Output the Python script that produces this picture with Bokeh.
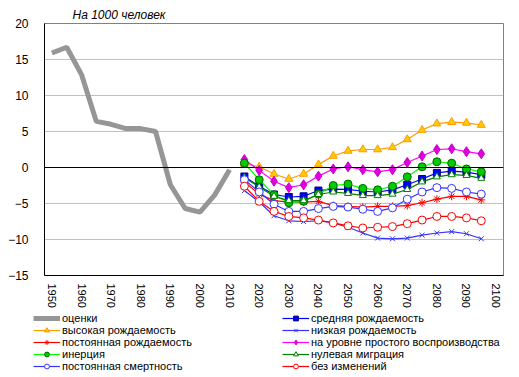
from bokeh.plotting import figure
from bokeh.layouts import column
from bokeh.models import Legend, LegendItem, Span, FixedTicker, Range1d
from bokeh.embed import file_html
from bokeh.resources import INLINE

# ---- data ----
est_years = [1950, 1955, 1960, 1965, 1970, 1975, 1980, 1985, 1990, 1995, 2000, 2005, 2010]
est_values = [15.9, 16.7, 12.9, 6.4, 6.0, 5.4, 5.4, 5.0, -2.4, -5.7, -6.2, -3.8, -0.3]

proj_years = [2015, 2020, 2025, 2030, 2035, 2040, 2045, 2050, 2055,
              2060, 2065, 2070, 2075, 2080, 2085, 2090, 2095]

medium = [-1.25, -2.6, -3.75, -4.1, -4.0, -3.2, -3.0, -3.05, -3.3, -3.4, -3.1, -2.4, -1.6, -0.75, -0.5, -0.65, -1.0]
high = [0.5, 0.1, -0.9, -1.6, -0.9, 0.4, 1.6, 2.3, 2.5, 2.5, 2.8, 3.9, 5.2, 6.1, 6.3, 6.2, 5.9]
low = [-3.2, -4.8, -6.7, -7.4, -7.5, -7.4, -7.7, -8.3, -9.1, -9.8, -9.9, -9.8, -9.4, -9.1, -8.9, -9.2, -9.9]
const_fert = [-2.0, -3.7, -4.6, -4.8, -4.8, -4.7, -5.3, -5.4, -5.5, -5.4, -5.4, -5.3, -4.9, -4.4, -4.0, -4.0, -4.5]
replacement = [1.1, -0.4, -1.9, -2.8, -2.4, -1.2, -0.2, 0.1, -0.3, -0.6, -0.3, 0.7, 1.6, 2.5, 2.6, 2.2, 1.9]
inertia = [0.6, -1.7, -3.8, -4.9, -4.7, -3.7, -2.5, -2.3, -2.9, -3.1, -2.6, -1.3, 0.1, 0.8, 0.6, -0.2, -0.6]
zero_mig = [-1.4, -2.7, -4.0, -4.6, -4.6, -3.75, -3.4, -3.6, -3.9, -3.9, -3.7, -3.05, -2.0, -1.3, -1.0, -1.1, -1.5]
const_mort = [-1.7, -3.4, -5.1, -6.1, -6.1, -5.7, -5.4, -5.5, -5.8, -6.1, -5.6, -4.4, -3.4, -2.8, -2.9, -3.4, -3.7]
no_change = [-2.6, -4.7, -6.1, -6.8, -7.0, -7.3, -7.7, -8.1, -8.4, -8.3, -8.2, -7.8, -7.3, -6.8, -6.8, -7.0, -7.4]

x_ticks = [1950, 1960, 1970, 1980, 1990, 2000, 2010, 2020, 2030, 2040, 2050, 2060, 2070, 2080, 2090, 2100]
y_ticks = [-15, -10, -5, 0, 5, 10, 15, 20]

FONT = "Liberation Sans"

p = figure(width=519, height=311, output_backend="svg", toolbar_location=None,
           x_range=Range1d(1947.5, 2102.5), y_range=Range1d(-15, 20),
           min_border_left=44, min_border_right=16, min_border_top=23,
           min_border_bottom=36, title="На 1000 человек")
p.frame_align = False

p.title.text_font = FONT
p.title.text_font_size = "12px"
p.title.text_font_style = "italic"
p.title.align = "left"
p.title.offset = 28
p.title.standoff = 4
p.title.text_color = "black"

p.outline_line_color = "#808080"
p.outline_line_width = 1
p.background_fill_color = "white"
p.border_fill_color = "white"

p.xgrid.grid_line_color = None
p.ygrid.grid_line_color = "#c0c0c0"
p.ygrid.ticker = FixedTicker(ticks=y_ticks)

p.xaxis.ticker = FixedTicker(ticks=x_ticks)
p.xaxis.major_label_orientation = "vertical"
p.xaxis.major_label_text_font = FONT
p.xaxis.major_label_text_font_size = "11px"
p.xaxis.major_label_text_color = "black"
p.xaxis.major_tick_line_color = None
p.xaxis.minor_tick_line_color = None
p.xaxis.axis_line_color = "black"
p.xaxis.major_label_standoff = 2

p.yaxis.ticker = FixedTicker(ticks=y_ticks)
p.yaxis.major_label_text_font = FONT
p.yaxis.major_label_text_font_size = "12px"
p.yaxis.major_label_text_color = "black"
p.yaxis.major_tick_line_color = None
p.yaxis.minor_tick_line_color = None
p.yaxis.axis_line_color = "black"
p.yaxis.major_label_standoff = 10

p.add_layout(Span(location=0, dimension="width", line_color="black", line_width=1))

# legend figure (below the chart)
lf = figure(width=519, height=66, output_backend="svg", toolbar_location=None,
            x_range=Range1d(0, 1), y_range=Range1d(0, 1),
            x_axis_type=None, y_axis_type=None,
            min_border_left=0, min_border_right=0, min_border_top=0, min_border_bottom=0)
lf.frame_align = False
lf.outline_line_color = None
lf.grid.grid_line_color = None
lf.background_fill_color = "white"
lf.border_fill_color = "white"

# off-screen stand-ins so the legend can show each series' style
OFF = [5, 6]

items = []

p.line(est_years, est_values, line_color="#969696", line_width=5)
d = lf.line(OFF, OFF, line_color="#969696", line_width=5)
items.append(LegendItem(label="оценки", renderers=[d]))

series = [
    ("средняя рождаемость", medium, "#0000ff", "square", "#0000ff", "#000080", 7, 5),
    ("высокая рождаемость", high, "#ff9900", "triangle", "#ffcc00", "#ff9900", 8, 6),
    ("низкая рождаемость", low, "#3333ff", "x", "#3333ff", "#3333ff", 7, 6),
    ("постоянная рождаемость", const_fert, "#ff0000", "asterisk", "#ff0000", "#ff0000", 8, 7),
    ("на уровне простого воспроизводства", replacement, "#ff00ff", "diamond", "#dd00dd", "#cc00cc", 10, 6),
    ("инерция", inertia, "#00ff00", "circle", "#00cc00", "#006600", 8, 5),
    ("нулевая миграция", zero_mig, "#008000", "triangle", "white", "#008000", 7, 6),
    ("постоянная смертность", const_mort, "#3333ff", "circle", "white", "#3333ff", 8, 5),
    ("без изменений", no_change, "#ff0000", "circle", "white", "#ff0000", 8, 5),
]

for label, vals, lc, marker, fill, mline, size, lsize in series:
    p.line(proj_years, vals, line_color=lc, line_width=1.2)
    p.scatter(proj_years, vals, marker=marker, size=size, fill_color=fill,
              line_color=mline, line_width=1)
    dl = lf.line(OFF, OFF, line_color=lc, line_width=1.2)
    ds = lf.scatter(OFF, OFF, marker=marker, size=lsize, fill_color=fill,
                    line_color=mline, line_width=1)
    items.append(LegendItem(label=label, renderers=[dl, ds]))

col1 = [items[i] for i in (0, 2, 4, 6, 8)]
col2 = [items[i] for i in (1, 3, 5, 7, 9)]

for its, xloc in ((col1, 33), (col2, 282)):
    lg = Legend(items=its, location=(xloc, 5), orientation="vertical",
                border_line_color=None, background_fill_alpha=0,
                padding=0, margin=0, spacing=0,
                glyph_height=12, glyph_width=27, label_height=12,
                label_standoff=2, label_text_font=FONT,
                label_text_font_size="11px", label_text_color="black")
    lf.add_layout(lg, "center")

layout = column(p, lf, spacing=0)
open("out.html", "w").write(file_html(layout, INLINE))
